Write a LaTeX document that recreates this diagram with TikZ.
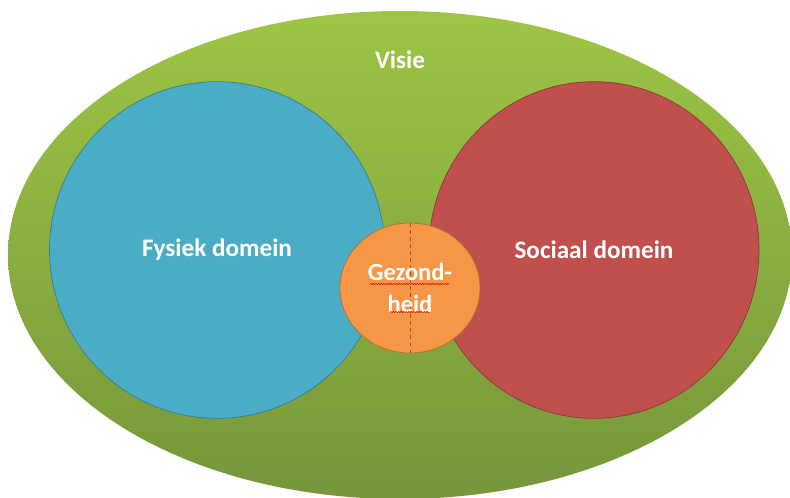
\documentclass[tikz,border=0pt]{standalone}
\usepackage{fontspec}
\setmainfont{Carlito}
\usetikzlibrary{shapes.geometric,decorations.pathmorphing}

\definecolor{visiegreen}{HTML}{9DC545}
\definecolor{visiedark}{HTML}{76963A}
\definecolor{fysblue}{HTML}{4BACC6}
\definecolor{fysline}{HTML}{357D91}
\definecolor{socred}{HTML}{C0504D}
\definecolor{socline}{HTML}{8C3836}
\definecolor{gezorange}{HTML}{F79646}
\definecolor{gezline}{HTML}{B66D31}

\tikzset{
    domainbox/.style={ellipse, draw, semithick, inner sep=0pt, outer sep=0pt,
        font=\bfseries\fontsize{21.5}{26}\selectfont, text=white},
    whitetext/.style={font=\bfseries\fontsize{21.5}{26}\selectfont, text=white}
}

\begin{document}
\begin{tikzpicture}[x=0.03cm, y=-0.03cm]

    \useasboundingbox (0,0) rectangle (790,497);

    % Visie (outer ellipse)
    \shade[top color=visiegreen, bottom color=visiedark]
        (400,255) ellipse (392 and 244);
    \node[whitetext] (visie) at (400,60) {Visie};

    % Fysiek domein
    \node[domainbox, fill=fysblue, draw=fysline,
        minimum width=10.05cm, minimum height=10.1cm] (fys) at (217,250) {Fysiek domein};

    % Sociaal domein
    \node[domainbox, fill=socred, draw=socline,
        minimum width=9.9cm, minimum height=10.1cm] (soc) at (594,250) {Sociaal domein};

    % Gezondheid in the middle
    \node[domainbox, fill=gezorange, draw=gezline,
        minimum width=4.2cm, minimum height=3.9cm] (gez) at (410,288) {};
    \draw[socred!90!black, dashed, thick] (gez.north) -- (gez.south);
    \node[whitetext, align=center, font=\bfseries\fontsize{21}{27}\selectfont]
        (gezt) at (gez.center) {Gezond-\\heid};

    % spelling marks under the text
    \draw[red!80!black, line width=0.4pt,
        decorate, decoration={snake, amplitude=0.5pt, segment length=2.2pt}]
        (370,284) -- (450,284);
    \draw[red!80!black, line width=0.4pt,
        decorate, decoration={snake, amplitude=0.5pt, segment length=2.2pt}]
        (390,312) -- (430,312);

\end{tikzpicture}
\end{document}
